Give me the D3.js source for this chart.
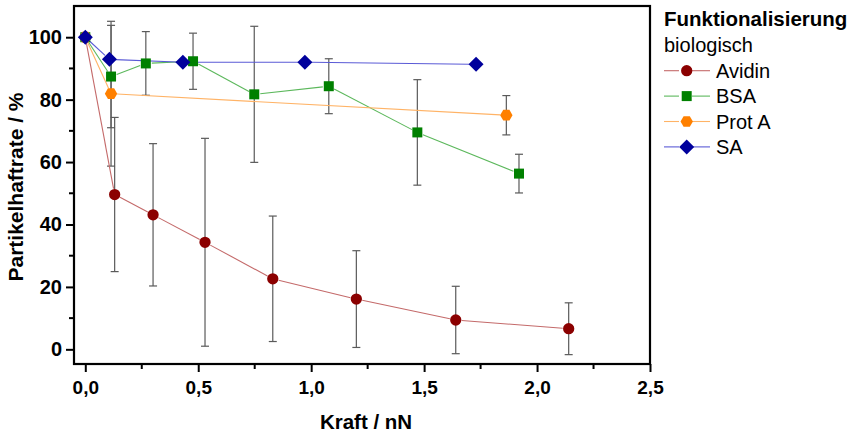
<!DOCTYPE html>
<html>
<head>
<meta charset="utf-8">
<script src="https://cdn.jsdelivr.net/npm/d3@7"></script>
<style>
  html, body { margin: 0; padding: 0; background: #fff; }
  svg { display: block; font-family: "Liberation Sans", Arial, sans-serif; }
</style>
</head>
<body>
<svg id="chart" width="855" height="437"></svg>
<script>
// Particle adhesion rate vs. applied force, per biological functionalisation
const avidinX   = [0, 0.13, 0.30, 0.53, 0.83, 1.20, 1.64, 2.14];
const avidinY   = [100, 49.6, 43.1, 34.3, 22.6, 16.1, 9.4, 6.6];
const avidinErr = [0, 24.7, 22.8, 33.3, 20.1, 15.5, 10.8, 8.3];

const bsaX   = [0, 0.114, 0.268, 0.477, 0.748, 1.078, 1.470, 1.920];
const bsaY   = [100, 87.4, 91.6, 92.3, 81.7, 84.3, 69.5, 56.3];
const bsaErr = [0, 16.4, 10.2, 9.0, 21.8, 8.8, 16.9, 6.2];

const protX   = [0, 0.114, 1.864];
const protY   = [100, 81.9, 75.0];
const protErr = [0, 23.2, 6.3];

const saX = [0, 0.107, 0.432, 0.972, 1.730];
const saY = [100, 92.9, 92.0, 92.0, 91.3];

const xTicks = [0, 0.5, 1.0, 1.5, 2.0, 2.5];
const yTicks = [0, 20, 40, 60, 80, 100];
const seriesNames = ["Avidin", "BSA", "Prot A", "SA"];

const series = [
  { name: seriesNames[0], x: avidinX, y: avidinY, err: avidinErr, shape: "circle",  fill: "#8b0000", line: "#c46a6a" },
  { name: seriesNames[1], x: bsaX,    y: bsaY,    err: bsaErr,    shape: "square",  fill: "#008000", line: "#5cb85c" },
  { name: seriesNames[2], x: protX,   y: protY,   err: protErr,   shape: "hexagon", fill: "#ff8000", line: "#ffb366" },
  { name: seriesNames[3], x: saX,     y: saY,     err: null,      shape: "diamond", fill: "#00009c", line: "#5a5ad6" }
];

const svg = d3.select("#chart");
const L = 74, R = 650, T = 6, B = 364;

const x = d3.scaleLinear().domain([-0.05, 2.5]).range([L, R]);
const y = d3.scaleLinear().domain([-4.7, 110]).range([B, T]);

const fmt = d => d3.format(".1f")(d).replace(".", ",");

// marker path generators
function markerPath(shape) {
  switch (shape) {
    case "circle": return d3.symbol(d3.symbolCircle, 100)();
    case "square": return "M-5,-5H5V5H-5Z";
    case "diamond": return "M0,-7.5L7.5,0L0,7.5L-7.5,0Z";
    case "hexagon": {
      const r = 6.2, pts = [];
      for (let i = 0; i < 6; i++) {
        const a = Math.PI / 3 * i;
        pts.push([r * Math.cos(a), r * Math.sin(a)]);
      }
      return "M" + pts.map(p => p.join(",")).join("L") + "Z";
    }
  }
}

// frame box
svg.append("rect")
  .attr("x", L).attr("y", T).attr("width", R - L).attr("height", B - T)
  .attr("fill", "none").attr("stroke", "#000").attr("stroke-width", 2.2);

// x axis with minor ticks
const xAxisG = svg.append("g").attr("transform", `translate(0,${B})`);
xAxisG.call(d3.axisBottom(x).tickValues(xTicks).tickFormat(fmt).tickSize(8));
xAxisG.append("g").selectAll("line")
  .data(d3.range(0.25, 2.5, 0.5))
  .join("line")
  .attr("x1", d => x(d)).attr("x2", d => x(d))
  .attr("y1", 0).attr("y2", 5).attr("stroke", "#000").attr("stroke-width", 2);

// y axis with minor ticks
const yAxisG = svg.append("g").attr("transform", `translate(${L},0)`);
yAxisG.call(d3.axisLeft(y).tickValues(yTicks).tickSize(8).tickPadding(4));
yAxisG.append("g").selectAll("line")
  .data(d3.range(10, 100, 20))
  .join("line")
  .attr("x1", 0).attr("x2", -5)
  .attr("y1", d => y(d)).attr("y2", d => y(d))
  .attr("stroke", "#000").attr("stroke-width", 2);

[xAxisG, yAxisG].forEach(g => {
  g.select(".domain").remove();
  g.selectAll(".tick line").attr("stroke", "#000").attr("stroke-width", 2);
  g.selectAll(".tick text")
    .attr("fill", "#000")
    .style("font-weight", "bold")
    .style("font-family", "'Liberation Sans', Arial, sans-serif");
});
xAxisG.selectAll(".tick text").attr("y", 30).attr("dy", 0).style("font-size", "19px");
yAxisG.selectAll(".tick text").style("font-size", "20px");

// axis titles
svg.append("text")
  .attr("x", 366).attr("y", 429)
  .attr("text-anchor", "middle")
  .style("font-size", "20.5px").style("font-weight", "bold")
  .text("Kraft / nN");

svg.append("text")
  .attr("transform", `translate(23,187) rotate(-90)`)
  .attr("text-anchor", "middle")
  .style("font-size", "21px").style("font-weight", "bold")
  .text("Partikelhaftrate / %");

// error bars
const errG = svg.append("g");
series.forEach(s => {
  if (!s.err) return;
  s.x.forEach((xv, i) => {
    const e = s.err[i];
    if (!e) return;
    const px = x(xv), y1 = y(s.y[i] + e), y2 = y(s.y[i] - e);
    const g = errG.append("g").attr("stroke", "#5a5a5a").attr("stroke-width", 1.2);
    g.append("line").attr("x1", px).attr("x2", px).attr("y1", y1).attr("y2", y2);
    g.append("line").attr("x1", px - 4).attr("x2", px + 4).attr("y1", y1).attr("y2", y1);
    g.append("line").attr("x1", px - 4).attr("x2", px + 4).attr("y1", y2).attr("y2", y2);
  });
});

// connecting lines, with a small gap around each marker
const gap = 6;
series.forEach(s => {
  const pts = s.x.map((xv, i) => [x(xv), y(s.y[i])]);
  const g = svg.append("g").attr("stroke", s.line).attr("stroke-width", 1.1);
  for (let i = 0; i < pts.length - 1; i++) {
    const [x1, y1] = pts[i], [x2, y2] = pts[i + 1];
    const dx = x2 - x1, dy = y2 - y1, len = Math.hypot(dx, dy);
    if (len <= 2 * gap) continue;
    const ux = dx / len, uy = dy / len;
    g.append("line")
      .attr("x1", x1 + ux * gap).attr("y1", y1 + uy * gap)
      .attr("x2", x2 - ux * gap).attr("y2", y2 - uy * gap);
  }
});

// markers
series.forEach(s => {
  svg.append("g").selectAll("path")
    .data(s.x.map((xv, i) => [xv, s.y[i]]))
    .join("path")
    .attr("d", markerPath(s.shape))
    .attr("transform", d => `translate(${x(d[0])},${y(d[1])})`)
    .attr("fill", s.fill);
});

// legend
const lg = svg.append("g").attr("transform", "translate(664,0)");
lg.append("text").attr("x", 0).attr("y", 26)
  .style("font-size", "20.5px").style("font-weight", "bold")
  .text("Funktionalisierung");
lg.append("text").attr("x", 0).attr("y", 51.7)
  .style("font-size", "20px")
  .text("biologisch");
series.forEach((s, i) => {
  const cy = 70.7 + i * 25.4;
  const row = lg.append("g").attr("transform", `translate(0,${cy})`);
  row.append("line").attr("x1", 0).attr("x2", 15).attr("y1", 0).attr("y2", 0)
    .attr("stroke", s.line).attr("stroke-width", 1.1);
  row.append("line").attr("x1", 28).attr("x2", 46).attr("y1", 0).attr("y2", 0)
    .attr("stroke", s.line).attr("stroke-width", 1.1);
  row.append("path").attr("d", markerPath(s.shape))
    .attr("transform", "translate(22.7,0)").attr("fill", s.fill);
  row.append("text").attr("x", 52).attr("y", 7)
    .style("font-size", "20px")
    .text(s.name);
});
</script>
</body>
</html>
